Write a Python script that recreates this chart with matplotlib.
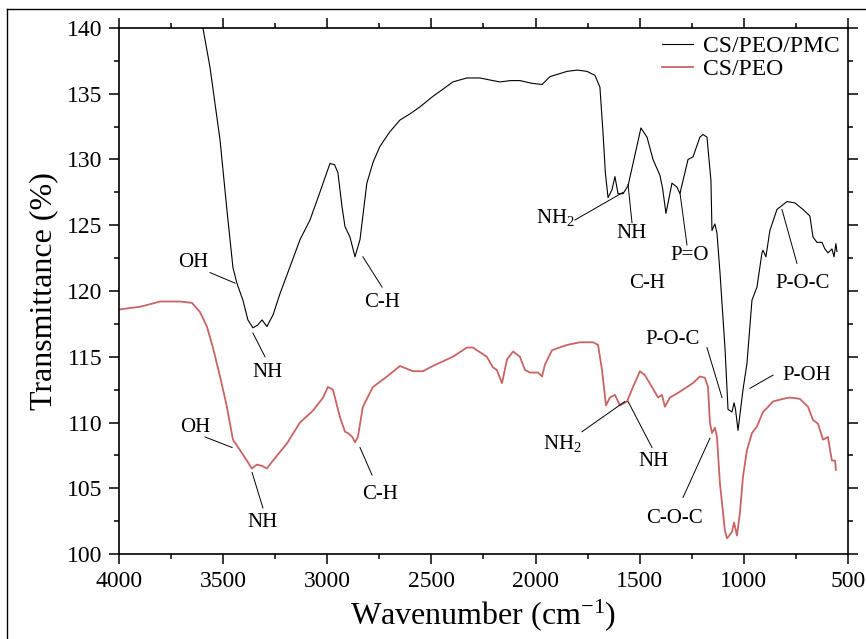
import matplotlib
matplotlib.use("Agg")
import matplotlib.pyplot as plt
from matplotlib.lines import Line2D
from matplotlib.ticker import MultipleLocator

plt.rcParams["font.family"] = ["Liberation Serif", "DejaVu Serif"]
plt.rcParams["mathtext.default"] = "regular"

# CS/PEO/PMC spectrum
pmc_wn = [3610, 3597, 3563, 3515, 3482, 3453, 3434, 3405, 3381, 3357, 3335, 3313,
          3290, 3260, 3227, 3180, 3131, 3083, 3040, 2987, 2965, 2949, 2930, 2915,
          2891, 2867, 2843, 2810, 2780, 2747, 2700, 2651, 2600, 2555, 2493, 2440,
          2397, 2330, 2267, 2205, 2171, 2120, 2075, 2020, 1969, 1931, 1890, 1849,
          1800, 1753, 1715, 1691, 1676, 1665, 1652, 1633, 1619, 1604, 1580, 1556,
          1532, 1494, 1465, 1436, 1403, 1390, 1374, 1345, 1321, 1307, 1292, 1268,
          1244, 1211, 1196, 1177, 1158, 1153, 1139, 1129, 1115, 1090, 1076, 1057,
          1047, 1040, 1028, 1004, 985, 961, 937, 913, 908, 894, 875, 841, 793, 755,
          716, 683, 668, 649, 625, 611, 596, 577, 567, 558, 553]
pmc_t = [141.5, 140.0, 137.0, 131.5, 126.2, 121.8, 120.6, 119.3, 117.8, 117.2, 117.4, 117.8,
         117.3, 118.2, 119.8, 121.8, 123.9, 125.4, 127.3, 129.7, 129.6, 129.0, 126.5, 124.9,
         124.1, 122.6, 123.9, 128.2, 129.8, 131.0, 132.1, 133.0, 133.5, 134.0, 134.8, 135.4,
         135.9, 136.2, 136.2, 136.0, 135.9, 136.0, 136.0, 135.8, 135.7, 136.3, 136.5, 136.7,
         136.8, 136.7, 136.4, 135.5, 132.0, 129.0, 127.1, 127.7, 128.7, 127.4, 127.4, 128.0,
         129.7, 132.4, 131.7, 130.0, 128.8, 127.8, 125.9, 128.2, 127.9, 127.4, 128.4, 130.0,
         130.2, 131.7, 131.9, 131.7, 128.4, 124.6, 125.1, 124.4, 121.5, 115.5, 111.0, 110.8,
         111.5, 111.0, 109.4, 112.5, 114.5, 119.3, 120.3, 122.9, 123.1, 122.6, 124.6, 126.2, 126.8, 126.7,
         126.2, 125.7, 124.1, 123.7, 123.7, 123.2, 122.9, 123.2, 122.6, 123.6, 123.0]

# CS/PEO spectrum
peo_wn = [3995, 3950, 3899, 3850, 3803, 3750, 3707, 3650, 3611, 3578, 3549, 3515,
          3482, 3453, 3419, 3386, 3362, 3338, 3313, 3290, 3261, 3194, 3131, 3069,
          3020, 2997, 2973, 2939, 2915, 2901, 2880, 2867, 2853, 2829, 2781, 2713,
          2651, 2589, 2541, 2493, 2397, 2330, 2301, 2234, 2205, 2186, 2161, 2137,
          2108, 2075, 2051, 2027, 1988, 1969, 1955, 1921, 1849, 1787, 1724, 1700,
          1681, 1662, 1643, 1619, 1595, 1561, 1532, 1499, 1475, 1441, 1412, 1393,
          1379, 1355, 1321, 1273, 1244, 1211, 1187, 1172, 1163, 1153, 1139, 1129,
          1115, 1091, 1081, 1070, 1057, 1047, 1033, 1019, 1004, 985, 961, 937,
          908, 889, 860, 812, 779, 731, 692, 668, 644, 620, 596, 586, 577, 562, 558]
peo_t = [118.6, 118.7, 118.8, 119.0, 119.2, 119.2, 119.2, 119.1, 118.4, 117.3, 115.7, 113.5,
         111.2, 108.7, 107.9, 107.1, 106.5, 106.8, 106.7, 106.5, 107.1, 108.4, 110.0, 110.9,
         111.9, 112.7, 112.5, 110.4, 109.3, 109.2, 108.9, 108.5, 108.9, 111.2, 112.7, 113.5,
         114.3, 113.9, 113.9, 114.3, 115.0, 115.7, 115.7, 115.0, 114.2, 114.0, 113.0, 114.8,
         115.4, 115.0, 114.0, 113.8, 113.8, 113.5, 114.4, 115.5, 115.9, 116.1, 116.1, 115.9,
         114.0, 111.3, 111.9, 112.1, 111.3, 111.6, 112.7, 113.9, 113.6, 112.7, 111.9, 112.1,
         111.2, 111.9, 112.2, 112.7, 113.0, 113.5, 113.4, 112.7, 110.0, 109.2, 109.6, 108.9,
         105.4, 101.8, 101.2, 101.4, 101.7, 102.4, 101.4, 103.1, 105.9, 107.9, 109.2, 109.7,
         110.8, 111.1, 111.6, 111.8, 111.9, 111.8, 111.2, 110.2, 109.9, 108.7, 108.9, 107.9,
         107.1, 107.1, 106.4]

# band labels: (text, text x, text y, line start, line end)
labels = [
    ("OH", 3645, 122.2, (3563, 121.4), (3443, 120.6)),
    ("NH", 3289, 113.8, (3357, 116.8), (3299, 115.0)),
    ("C-H", 2737, 119.1, (2829, 122.6), (2737, 120.3)),
    ("NH$_2$", 1907, 125.6, (1811, 125.4), (1580, 127.5)),
    ("NH", 1537, 124.4, (1556, 128.1), (1537, 125.2)),
    ("C-H", 1465, 120.6, None, None),
    ("P=O", 1259, 122.7, (1307, 127.5), (1273, 123.5)),
    ("P-O-C", 716, 120.6, (817, 126.2), (745, 122.1)),
    ("P-O-C", 1340, 116.3, (1177, 115.7), (1105, 111.9)),
    ("P-OH", 697, 113.6, (860, 113.6), (971, 112.6)),
    ("OH", 3635, 109.6, (3587, 108.9), (3457, 108.1)),
    ("NH", 3309, 102.4, (3361, 106.2), (3309, 103.5)),
    ("C-H", 2747, 104.5, (2843, 108.1), (2785, 106.0)),
    ("NH$_2$", 1873, 108.4, (1777, 109.3), (1571, 111.6)),
    ("NH", 1436, 107.0, (1556, 111.6), (1441, 108.1)),
    ("C-O-C", 1331, 102.7, (1292, 104.3), (1163, 108.8)),
]

fig = plt.figure(figsize=(8.66, 6.39), dpi=100)
ax = fig.add_axes([0.1374, 0.1330, 0.8418, 0.8232])

ax.plot(pmc_wn, pmc_t, color="black", lw=0.8, label="CS/PEO/PMC")
ax.plot(peo_wn, peo_t, color="#c86464", lw=1.3, label="CS/PEO")

for txt, tx, ty, p0, p1 in labels:
    ax.text(tx, ty, txt, fontsize=15, ha="center", va="center")
    if p0 is not None:
        ax.plot([p0[0], p1[0]], [p0[1], p1[1]], color="black", lw=0.7)

ax.set_xlim(4000, 500)
ax.set_ylim(100, 140)
ax.xaxis.set_major_locator(MultipleLocator(500))
ax.xaxis.set_minor_locator(MultipleLocator(250))
ax.yaxis.set_major_locator(MultipleLocator(5))
ax.yaxis.set_minor_locator(MultipleLocator(2.5))
ax.tick_params(which="both", direction="out", top=True, right=True,
               labeltop=False, labelright=False, width=1.1, labelsize=17)
ax.tick_params(which="major", length=7, pad=5)
ax.tick_params(which="minor", length=3.5)
for s in ax.spines.values():
    s.set_linewidth(1.2)

ax.set_xlabel("Wavenumber (cm$^{-1}$)", fontsize=23, labelpad=4)
ax.set_ylabel("Transmittance (%)", fontsize=23, labelpad=6)

ax.legend(loc="upper right", bbox_to_anchor=(0.988, 0.985), frameon=False,
          fontsize=17, handlelength=1.3, handletextpad=0.4, labelspacing=0.05,
          borderpad=0, borderaxespad=0)

# thin frame around the whole picture
fig.add_artist(Line2D([7 / 866, 7 / 866], [0, 1 - 9 / 639], color="black", lw=1.0))
fig.add_artist(Line2D([7 / 866, 1], [1 - 9 / 639, 1 - 9 / 639], color="black", lw=1.0))

fig.savefig("out.png", dpi=100)
